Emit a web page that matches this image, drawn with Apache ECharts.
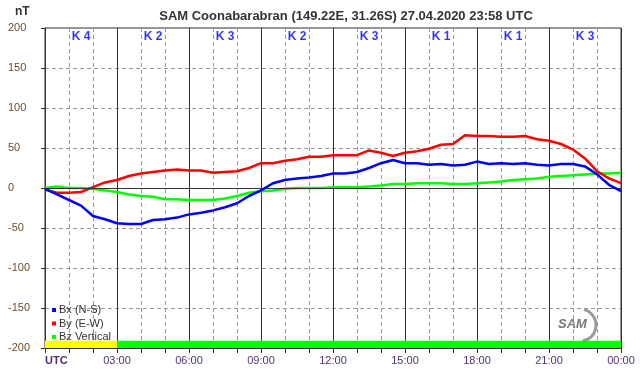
<!DOCTYPE html>
<html>
<head>
<meta charset="utf-8">
<script src="https://cdn.jsdelivr.net/npm/echarts@6/dist/echarts.min.js"></script>
<style>
  html, body { margin: 0; padding: 0; background: #fff; }
  #main { width: 642px; height: 376px; }
</style>
</head>
<body>
<div id="main"></div>
<script>
// time of day in hours (UTC)
var hours = [0, 0.5, 1, 1.5, 2, 2.5, 3, 3.5, 4, 4.5, 5, 5.5, 6, 6.5, 7, 7.5, 8, 8.5, 9, 9.5,
  10, 10.5, 11, 11.5, 12, 12.5, 13, 13.5, 14, 14.5, 15, 15.5, 16, 16.5, 17, 17.5, 18, 18.5,
  19, 19.5, 20, 20.5, 21, 21.5, 22, 22.5, 23, 23.5, 24];
var bx = [-1, -8, -15, -22, -35, -39, -44, -45, -45, -40, -39, -37, -33, -31, -28, -24, -19, -10, -3, 6,
  10, 12, 13, 15, 18, 18, 20, 25, 31, 35, 31, 31, 29, 30, 28, 29, 33, 30,
  31, 30, 31, 29, 28, 30, 30, 27, 17, 4, -4];
var by = [-2, -6, -6, -5, 1, 7, 10, 15, 18, 20, 22, 23, 22, 22, 19, 20, 21, 25, 31, 31,
  34, 36, 39, 39, 41, 41, 41, 47, 44, 40, 44, 46, 49, 54, 55, 66, 65, 65,
  64, 64, 65, 61, 59, 55, 48, 37, 21, 12, 6];
var bz = [0, 2, 0, 0, -1, -3, -5, -8, -10, -11, -14, -14, -15, -15, -15, -13, -10, -6, -4, -3,
  -1, 0, 0, 0, 1, 1, 1, 2, 3, 5, 5, 6, 6, 6, 5, 5, 6, 7,
  8, 10, 11, 12, 14, 15, 16, 17, 18, 18, 19];

// K index per 3 hour block
var kLabels = ['K 4', 'K 2', 'K 3', 'K 2', 'K 3', 'K 1', 'K 1', 'K 3'];
var statusColors = ['#ffff00', '#00ff00', '#00ff00', '#00ff00', '#00ff00', '#00ff00', '#00ff00', '#00ff00'];
var xTickLabels = ['UTC', '03:00', '06:00', '09:00', '12:00', '15:00', '18:00', '21:00', '00:00'];

var font = 'Liberation Sans, Arial, sans-serif';
var myChart = echarts.init(document.getElementById('main'));

var kData = kLabels.map(function (k, i) { return [i * 3 + 1.5, 189, k]; });
var statusAreas = statusColors.map(function (c, i) {
  return [{ xAxis: i * 3, yAxis: -200, itemStyle: { color: c } }, { xAxis: i * 3 + 3, yAxis: -191 }];
});

function pairs(vals) {
  return hours.map(function (h, i) { return [h, vals[i]]; });
}

myChart.setOption({
  animation: false,
  backgroundColor: '#fff',
  textStyle: { fontFamily: font },
  title: {
    text: 'SAM Coonabarabran (149.22E, 31.26S) 27.04.2020 23:58 UTC',
    left: 341, textAlign: 'center', top: 5,
    textStyle: { fontSize: 13, fontWeight: 'bold', color: '#333', fontFamily: font }
  },
  graphic: [
    { type: 'text', left: 15, top: 6, style: { text: 'nT', font: 'bold 12px ' + font, fill: '#333' } },
    { type: 'arc', shape: { cx: 580, cy: 325, r: 16, startAngle: -1.3, endAngle: 1.4 },
      style: { stroke: '#999', lineWidth: 3, fill: null } },
    { type: 'text', left: 558, top: 318, style: { text: 'SAM', font: 'italic bold 13px ' + font, fill: '#777' } }
  ],
  legend: {
    data: ['Bx (N-S)', 'By (E-W)', 'Bz Vertical'],
    orient: 'vertical', left: 47, top: 299, itemGap: 1.5,
    itemWidth: 4, itemHeight: 4, icon: 'rect',
    textStyle: { fontSize: 11, color: '#333', padding: [0, 0, 0, -2], lineHeight: 12 }
  },
  grid: { left: 45, right: 21, top: 28, bottom: 28, show: true, borderColor: '#333', borderWidth: 1 },
  xAxis: {
    type: 'value', min: 0, max: 24, interval: 3,
    axisLine: { onZero: false, lineStyle: { color: '#333' } },
    axisTick: { length: 5, lineStyle: { color: '#333' } },
    minorTick: { show: true, splitNumber: 3, length: 5, lineStyle: { color: '#333' } },
    splitLine: { show: true, lineStyle: { color: '#333', width: 1 } },
    minorSplitLine: { show: true, lineStyle: { color: '#999', type: [4, 3] } },
    axisLabel: {
      margin: 7, fontSize: 11, color: '#503070', alignMinLabel: 'left',
      formatter: function (v) {
        var s = xTickLabels[Math.round(v / 3)];
        return v === 0 ? '{u|' + s + '}' : s;
      },
      rich: { u: { fontWeight: 'bold', fontSize: 11, color: '#503070' } }
    }
  },
  yAxis: {
    type: 'value', min: -200, max: 200, interval: 50,
    axisLine: { show: true, lineStyle: { color: '#333' } },
    axisTick: { show: true, length: 4, lineStyle: { color: '#333' } },
    splitLine: { show: true, lineStyle: {
      color: ['transparent', '#999', '#999', '#999', 'transparent', '#999', '#999', '#999', 'transparent'],
      type: [4, 3] } },
    axisLabel: { align: 'left', margin: 37, fontSize: 11, color: '#6b4e2a' }
  },
  series: [
    {
      name: 'Bx (N-S)', type: 'line', data: pairs(bx), showSymbol: false, z: 5,
      itemStyle: { color: '#0000ff' }, lineStyle: { color: '#0000ff', width: 2.5 },
      markLine: { silent: true, symbol: 'none', label: { show: false },
        lineStyle: { color: '#333', type: 'solid', width: 1 }, data: [{ yAxis: 0 }] }
    },
    {
      name: 'By (E-W)', type: 'line', data: pairs(by), showSymbol: false, z: 4,
      itemStyle: { color: '#ff0000' }, lineStyle: { color: '#ff0000', width: 2.5 }
    },
    {
      name: 'Bz Vertical', type: 'line', data: pairs(bz), showSymbol: false, z: 3,
      itemStyle: { color: '#00ff00' }, lineStyle: { color: '#00ff00', width: 2.5 }
    },
    {
      name: 'K', type: 'scatter', data: kData, symbolSize: 0, silent: true,
      label: { show: true, position: 'inside', formatter: function (p) { return p.data[2]; },
        color: '#0000ff', fontWeight: 'bold', fontSize: 12 },
      markArea: { silent: true, data: statusAreas }
    }
  ]
});
</script>
</body>
</html>
